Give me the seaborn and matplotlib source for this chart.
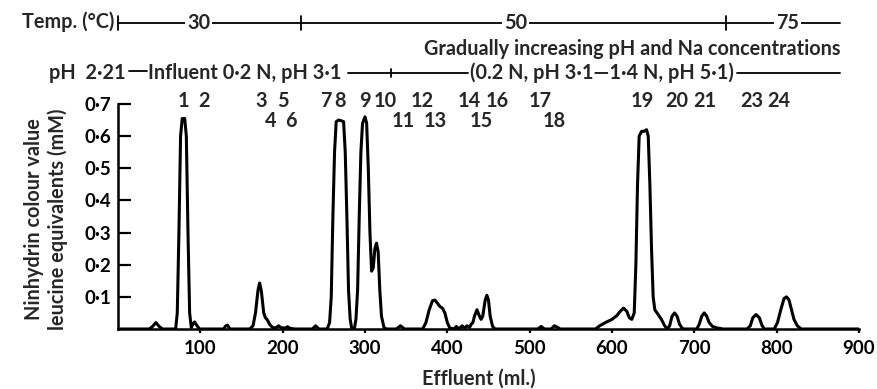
import numpy as np
import pandas as pd
import seaborn as sns
import matplotlib
matplotlib.use("Agg")
import matplotlib.pyplot as plt

# Chromatogram trace (effluent ml, ninhydrin value mM)
effluent = [0, 38, 42, 46, 50, 54, 70, 72, 74, 76, 78, 81, 83, 85, 87, 89, 91, 93, 96, 99,
            128, 131, 133, 136, 160, 164, 167, 170, 172, 174, 177, 179, 181, 184, 188, 192,
            195, 198, 203, 206, 209, 215, 236, 240, 244, 254, 257, 259, 261, 263, 265, 268,
            271, 274, 276, 278, 280, 282, 284, 287, 289, 291, 293, 295, 297, 300, 302, 304,
            306, 308, 310, 312, 314, 316, 318, 320, 323, 326, 338, 343, 348, 370, 374, 378,
            382, 385, 388, 391, 394, 397, 400, 403, 408, 411, 414, 418, 421, 424, 427, 429,
            431, 433, 436, 439, 441, 443, 446, 448, 450, 452, 455, 458, 510, 514, 518, 526,
            530, 534, 537, 580, 585, 592, 600, 606, 610, 614, 618, 621, 624, 627, 629, 631,
            633, 636, 639, 642, 644, 646, 648, 650, 652, 656, 660, 664, 667, 670, 673, 676,
            679, 682, 685, 687, 703, 706, 709, 712, 715, 718, 722, 728, 735, 764, 768, 771,
            775, 779, 782, 785, 797, 801, 805, 809, 812, 815, 818, 821, 825, 830, 900]
ninhydrin = [0, 0, 0.008, 0.02, 0.008, 0, 0, 0.05, 0.3, 0.6, 0.655, 0.655, 0.6, 0.3, 0.05, 0.005,
             0.015, 0.022, 0.01, 0, 0, 0.01, 0.012, 0, 0, 0.01, 0.05, 0.12, 0.143, 0.12, 0.05,
             0.035, 0.03, 0.015, 0.004, 0.004, 0.01, 0.004, 0.003, 0.007, 0.002, 0, 0, 0.01, 0,
             0, 0.02, 0.1, 0.35, 0.55, 0.645, 0.65, 0.648, 0.645, 0.55, 0.35, 0.12, 0.03, 0, 0,
             0.03, 0.12, 0.35, 0.55, 0.64, 0.66, 0.64, 0.5, 0.3, 0.18, 0.19, 0.25, 0.267, 0.24,
             0.12, 0.04, 0.005, 0, 0, 0.01, 0, 0, 0.02, 0.06, 0.088, 0.09, 0.08, 0.07, 0.065,
             0.05, 0.02, 0.003, 0, 0.008, 0, 0.01, 0.003, 0.01, 0.005, 0.015, 0.02, 0.04, 0.06,
             0.04, 0.03, 0.04, 0.09, 0.105, 0.09, 0.04, 0.008, 0, 0, 0.008, 0, 0, 0.01, 0.005,
             0, 0, 0.01, 0.02, 0.03, 0.042, 0.055, 0.065, 0.055, 0.035, 0.03, 0.05, 0.2, 0.45,
             0.6, 0.615, 0.615, 0.62, 0.6, 0.45, 0.25, 0.1, 0.06, 0.045, 0.03, 0.01, 0, 0.01,
             0.04, 0.05, 0.04, 0.015, 0.003, 0, 0, 0.015, 0.04, 0.05, 0.04, 0.02, 0.008, 0.003,
             0, 0, 0.01, 0.035, 0.045, 0.035, 0.012, 0, 0, 0.02, 0.06, 0.095, 0.1, 0.09, 0.06,
             0.03, 0.01, 0, 0]

# peak numbers: top row and lower row
peaks_top = ["1", "2", "3", "5", "7", "8", "9", "10", "12", "14", "16", "17", "19", "20", "21", "23", "24"]
peaks_top_x = [79, 105, 174, 200, 252, 270, 300, 324, 370, 427, 461, 513, 637, 679, 713, 770, 803]
peaks_low = ["4", "6", "11", "13", "15", "18"]
peaks_low_x = [185, 210, 346, 385, 441, 530]

# temperature programme
temp_breaks = [0, 222, 738]
temp_end = 877
temp_labels = ["30", "50", "75"]
temp_label_x = [98, 483, 813]

xticks = [100, 200, 300, 400, 500, 600, 700, 800, 900]
yticks = [0.1, 0.2, 0.3, 0.4, 0.5, 0.6, 0.7]

df = pd.DataFrame({"Effluent": effluent, "Ninhydrin": ninhydrin})

sns.set_style("ticks")
plt.rcParams["font.family"] = ["Lato", "DejaVu Sans"]
FS = 14.3
TFS = 13.5
W = "bold"
plt.rcParams["font.size"] = FS
plt.rcParams["font.weight"] = W
plt.rcParams["axes.labelweight"] = W

fig = plt.figure(figsize=(8.77, 3.89), dpi=100)
ax = fig.add_axes([118 / 877, 1 - 329 / 389, 741 / 877, 225 / 389])

sns.lineplot(data=df, x="Effluent", y="Ninhydrin", color="black", linewidth=2.2, ax=ax)

ax.set_xlim(0, 900)
ax.set_ylim(0, 0.7)
sns.despine(ax=ax)
for s in ["left", "bottom"]:
    ax.spines[s].set_linewidth(1.8)
    ax.spines[s].set_color("black")

ax.set_xticks(xticks)
ax.set_xticklabels([str(v) for v in xticks], fontsize=TFS, fontweight=W)
ax.set_yticks(yticks)
ax.set_yticklabels([f"{v:.1f}".replace(".", "\u00b7") for v in yticks], fontsize=TFS, fontweight=W)
ax.tick_params(axis="y", direction="in", length=9, width=1.6, pad=5, colors="black")
ax.tick_params(axis="x", direction="out", length=3, width=1.6, pad=5, colors="black")

ax.set_xlabel("Effluent (ml.)", fontsize=FS, fontweight=W)
ax.xaxis.set_label_coords(0.487, -0.175)
ax.set_ylabel("Ninhydrin colour value\nleucine equivalents (mM)", fontsize=FS, fontweight=W,
              linespacing=1.2)
ax.yaxis.set_label_coords(-0.067, 0.49)

# peak numbers
for lab, x in zip(peaks_top, peaks_top_x):
    ax.text(x, 0.709, lab, ha="center", va="center", fontsize=FS, clip_on=False)
for lab, x in zip(peaks_low, peaks_low_x):
    ax.text(x, 0.647, lab, ha="center", va="center", fontsize=FS, clip_on=False)

# temperature row
ty = 0.952
ax.plot([temp_breaks[0], temp_end], [ty, ty], color="black", lw=1.3, clip_on=False)
for b in temp_breaks:
    ax.plot([b, b], [ty - 0.022, ty + 0.022], color="black", lw=1.3, clip_on=False)
for lab, x in zip(temp_labels, temp_label_x):
    ax.text(x, ty, lab, ha="center", va="center", fontsize=FS, clip_on=False,
            bbox=dict(facecolor="white", edgecolor="none", pad=1.5))
ax.text(-4, 0.955, "Temp. (\u00b0C)", ha="right", va="center", fontsize=FS, clip_on=False)

# gradient description
ax.text(877, 0.871, "Gradually increasing pH and Na concentrations", ha="right", va="center",
        fontsize=FS, clip_on=False)

# pH / influent row
py = 0.797
ax.text(-84, py, "pH  2\u00b721", ha="left", va="center", fontsize=FS, clip_on=False)
ax.plot([13, 35], [py + 0.005, py + 0.005], color="black", lw=1.3, clip_on=False)
ax.text(37, py, "Influent 0\u00b72 N, pH 3\u00b71", ha="left", va="center", fontsize=FS, clip_on=False)
ax.plot([279, 425], [py, py], color="black", lw=1.3, clip_on=False)
ax.plot([331, 331], [py - 0.012, py + 0.012], color="black", lw=1.3, clip_on=False)
ax.text(427, py, "(0.2 N, pH 3\u00b71\u20141\u00b74 N, pH 5\u00b71)", ha="left", va="center",
        fontsize=FS, clip_on=False)
ax.plot([752, 877], [py, py], color="black", lw=1.3, clip_on=False)

fig.savefig("out.png", dpi=100)
